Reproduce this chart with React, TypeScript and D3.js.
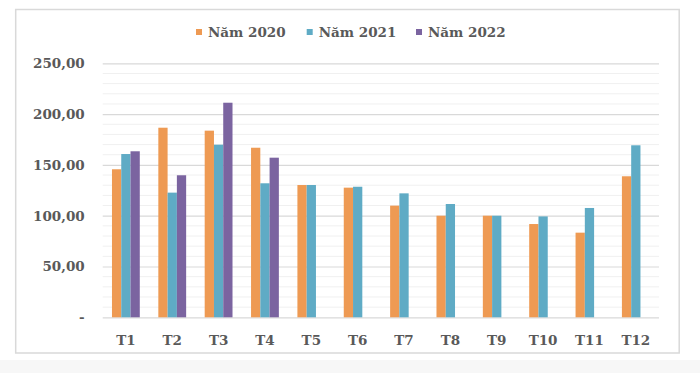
import { useRef, useEffect } from 'react'
import * as d3 from 'd3'

const months = ['T1', 'T2', 'T3', 'T4', 'T5', 'T6', 'T7', 'T8', 'T9', 'T10', 'T11', 'T12']
const seriesNames = ['Năm 2020', 'Năm 2021', 'Năm 2022']
const y2020 = [145.7, 186.6, 183.7, 166.9, 130.2, 127.6, 109.9, 100, 100, 91.8, 83.3, 138.8]
const y2021 = [160.7, 122.7, 169.9, 131.9, 130.2, 128.5, 122, 111.5, 100, 99.3, 107.6, 169.3]
const y2022 = [163.4, 139.8, 211.2, 157.1, null, null, null, null, null, null, null, null]
const yTicks = [0, 50, 100, 150, 200, 250]
const colors = ['#EE9A53', '#5FABC5', '#7B64A0']

export default function App() {
  const svgRef = useRef<SVGSVGElement>(null)

  useEffect(() => {
    if (!svgRef.current) return
    document.body.style.margin = '0'
    const svg = d3.select(svgRef.current)
    svg.selectAll('*').remove()

    const width = 700
    const height = 373
    const margin = { top: 63.3, right: 41, bottom: 55.7, left: 102.7 }
    const innerW = width - margin.left - margin.right
    const innerH = height - margin.top - margin.bottom
    const font = '"DejaVu Serif", "Liberation Serif", serif'
    const fontSize = 13.5

    svg.attr('width', width).attr('height', height)

    svg.append('rect').attr('width', width).attr('height', height).attr('fill', '#ffffff')
    svg.append('rect').attr('x', 0).attr('y', 360).attr('width', width).attr('height', 13).attr('fill', '#f7f7f7')

    // chart frame
    svg.append('rect')
      .attr('x', 15.7).attr('y', 9.5)
      .attr('width', 663.5).attr('height', 343.5)
      .attr('fill', '#ffffff')
      .attr('stroke', '#d9d9d9')
      .attr('stroke-width', 1.5)

    const g = svg.append('g').attr('transform', `translate(${margin.left},${margin.top})`)

    const x0 = d3.scaleBand().domain(months).range([0, innerW]).paddingInner(0.4).paddingOuter(0.2)
    const x1 = d3.scaleBand().domain(seriesNames).range([0, x0.bandwidth()])
    const y = d3.scaleLinear().domain([0, 250]).range([innerH, 0])

    // minor grid
    g.append('g')
      .selectAll('line')
      .data(d3.range(0, 251, 10).filter((v) => v % 50 !== 0))
      .join('line')
      .attr('x1', 0).attr('x2', innerW)
      .attr('y1', (d) => y(d)).attr('y2', (d) => y(d))
      .attr('stroke', '#f0f0f0')
      .attr('stroke-width', 1)

    // major grid + y labels
    const yAxis = d3.axisLeft(y).tickValues(yTicks).tickSize(-innerW).tickPadding(18)
      .tickFormat((d) => (d === 0 ? '-' : d3.format('.2f')(d as number).replace('.', ',')))
    g.append('g')
      .call(yAxis)
      .call((s) => s.select('.domain').remove())
      .call((s) => s.selectAll('.tick line').attr('stroke', '#d9d9d9').attr('stroke-width', 1.2))
      .call((s) => s.selectAll('.tick text')
        .attr('fill', '#595959').attr('font-size', fontSize).attr('font-weight', 'bold')
        .attr('font-family', font))

    const data = [y2020, y2021, y2022]
    seriesNames.forEach((name, si) => {
      g.append('g')
        .selectAll('rect')
        .data(months.map((m, i) => ({ m, v: data[si][i] })).filter((d) => d.v != null))
        .join('rect')
        .attr('x', (d) => (x0(d.m) as number) + (x1(name) as number))
        .attr('width', x1.bandwidth())
        .attr('y', (d) => y(d.v as number))
        .attr('height', (d) => innerH - y(d.v as number))
        .attr('fill', colors[si])
    })

    // x labels
    const xAxis = d3.axisBottom(x0).tickSize(0).tickPadding(18)
    g.append('g')
      .attr('transform', `translate(0,${innerH})`)
      .call(xAxis)
      .call((s) => s.select('.domain').remove())
      .call((s) => s.selectAll('.tick text')
        .attr('fill', '#595959').attr('font-size', fontSize).attr('font-weight', 'bold')
        .attr('font-family', font))

    // legend
    const legendX = [196, 306.7, 416]
    const legend = svg.append('g')
    seriesNames.forEach((name, i) => {
      legend.append('rect')
        .attr('x', legendX[i]).attr('y', 29)
        .attr('width', 6).attr('height', 6)
        .attr('fill', colors[i])
      legend.append('text')
        .attr('x', legendX[i] + 12).attr('y', 32)
        .attr('dy', '0.35em')
        .attr('fill', '#595959').attr('font-size', fontSize).attr('font-weight', 'bold')
        .attr('font-family', font)
        .text(name)
    })
  }, [])

  return <svg ref={svgRef} style={{ display: 'block' }} />
}
